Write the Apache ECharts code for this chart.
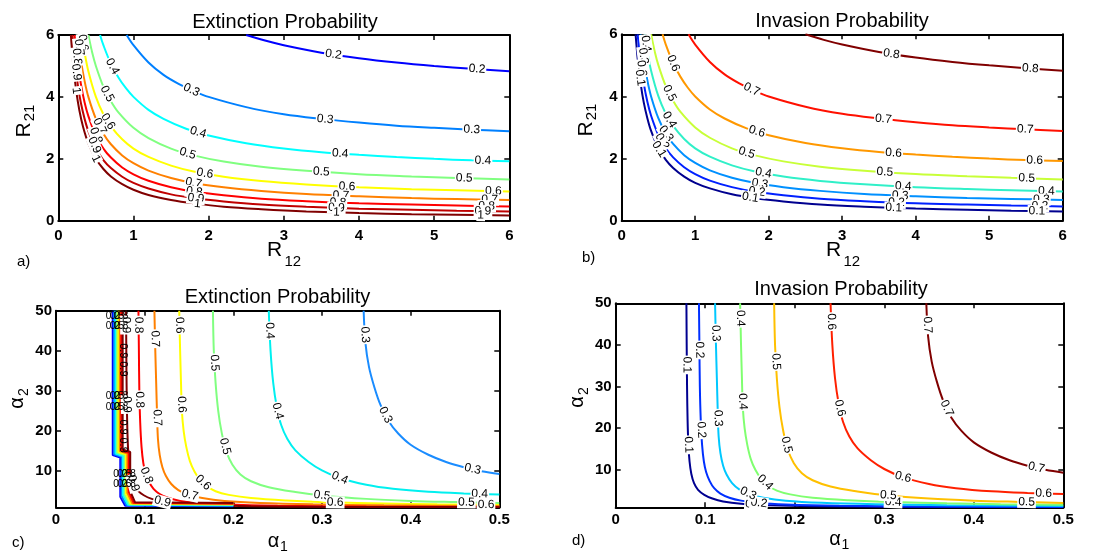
<!DOCTYPE html>
<html>
<head>
<meta charset="utf-8">
<script src="https://cdn.jsdelivr.net/npm/echarts@6/dist/echarts.min.js"></script>
<style>
  html, body { margin: 0; padding: 0; background: #fff; }
  #chart { width: 1102px; height: 554px; }
</style>
</head>
<body>
<div id="chart"></div>
<script>
// ---- Contour levels in the (R12, R21) plane, pairs [R12, R21] ----
// extinction level 0.2 == invasion level 0.8, and so on
const ext02 = [[2.5,6],[2.75,5.82],[3,5.67],[3.5,5.43],[4,5.25],[4.5,5.11],[5,5],[5.5,4.91],[6,4.83]];
const ext03 = [[0.909,6],[1,5.67],[1.2,5.11],[1.4,4.71],[1.6,4.42],[1.8,4.19],[2,4],[2.5,3.67],[3,3.44],[3.5,3.29],[4,3.17],[4.5,3.07],[5,3],[5.5,2.94],[6,2.89]];
const ext04 = [[0.556,6],[0.6,5.67],[0.7,5.07],[0.8,4.63],[0.9,4.28],[1,4],[1.2,3.58],[1.4,3.29],[1.7,2.97],[2,2.75],[2.5,2.5],[3,2.33],[3.5,2.21],[4,2.13],[4.5,2.06],[5,2],[5.5,1.95],[6,1.92]];
const ext05 = [[0.4,6],[0.45,5.44],[0.5,5],[0.6,4.33],[0.7,3.86],[0.8,3.5],[1,3],[1.2,2.67],[1.5,2.33],[1.8,2.11],[2.2,1.91],[2.7,1.74],[3.3,1.61],[4,1.5],[4.7,1.43],[5.3,1.38],[6,1.33]];
const ext06 = [[0.3125,6],[0.35,5.43],[0.4,4.83],[0.5,4],[0.6,3.44],[0.7,3.05],[0.85,2.63],[1,2.33],[1.2,2.06],[1.5,1.78],[1.8,1.59],[2.2,1.42],[2.7,1.28],[3.3,1.17],[4,1.08],[4.7,1.02],[5.3,0.98],[6,0.94]];
const ext07 = [[0.256,6],[0.3,5.19],[0.35,4.51],[0.4,4],[0.5,3.29],[0.6,2.81],[0.7,2.47],[0.85,2.11],[1,1.86],[1.2,1.62],[1.5,1.38],[1.8,1.22],[2.2,1.08],[2.7,0.96],[3.3,0.86],[4,0.79],[4.7,0.73],[5.3,0.7],[6,0.67]];
const ext08 = [[0.217,6],[0.25,5.25],[0.3,4.42],[0.35,3.82],[0.4,3.38],[0.5,2.75],[0.6,2.33],[0.7,2.04],[0.85,1.72],[1,1.5],[1.2,1.29],[1.5,1.08],[1.8,0.94],[2.2,0.82],[2.7,0.71],[3.3,0.63],[4,0.56],[4.7,0.52],[5.3,0.49],[6,0.46]];
const ext09 = [[0.189,6],[0.22,5.16],[0.26,4.38],[0.3,3.81],[0.35,3.29],[0.4,2.89],[0.5,2.33],[0.6,1.96],[0.7,1.7],[0.85,1.42],[1,1.22],[1.2,1.04],[1.5,0.85],[1.8,0.73],[2.2,0.62],[2.7,0.52],[3.3,0.45],[4,0.39],[4.7,0.35],[5.3,0.32],[6,0.3]];
const ext10 = [[0.167,6],[0.2,5],[0.24,4.17],[0.28,3.57],[0.33,3.03],[0.4,2.5],[0.5,2],[0.6,1.67],[0.7,1.43],[0.85,1.18],[1,1],[1.2,0.83],[1.5,0.67],[1.8,0.56],[2.2,0.45],[2.7,0.37],[3.3,0.3],[4,0.25],[4.7,0.21],[5.3,0.19],[6,0.17]];

// ---- Contour levels in the (alpha1, alpha2) plane, pairs [alpha1, alpha2] ----
const alp03 = [[0.347,50],[0.349,42],[0.353,36],[0.359,31],[0.366,26.5],[0.375,22.5],[0.386,19.4],[0.4,16.6],[0.42,14.1],[0.44,12.3],[0.46,11],[0.48,10],[0.5,9.3]];
const alp04 = [[0.24,50],[0.242,40],[0.245,32],[0.249,26],[0.254,21.5],[0.261,18],[0.27,15.2],[0.285,12.3],[0.3,10.2],[0.32,8.3],[0.35,6.6],[0.38,5.6],[0.42,4.85],[0.46,4.45],[0.5,4.2]];
const alp05 = [[0.177,50],[0.178,40],[0.18,32],[0.183,25],[0.187,19.5],[0.192,15],[0.199,11.6],[0.208,9.2],[0.22,7.5],[0.24,6],[0.27,4.8],[0.3,3.95],[0.35,3.1],[0.4,2.6],[0.45,2.3],[0.5,2.05]];
const alp06 = [[0.139,50],[0.14,40],[0.141,32],[0.142,25],[0.144,20],[0.147,16],[0.151,12.5],[0.156,10],[0.162,8],[0.17,6.3],[0.18,5],[0.195,4.1],[0.22,3.3],[0.26,2.7],[0.31,2.25],[0.37,1.95],[0.43,1.75],[0.5,1.6]];
const alp07 = [[0.111,50],[0.112,40],[0.113,32],[0.114,24],[0.115,18],[0.117,14],[0.12,11],[0.124,8.8],[0.13,6.8],[0.138,5.3],[0.15,4.1],[0.165,3.3],[0.19,2.6],[0.23,2.1],[0.29,1.75],[0.37,1.5],[0.5,1.3]];
const alp08 = [[0.093,50],[0.0935,40],[0.094,30],[0.095,22],[0.0965,16],[0.0985,12],[0.101,9.5],[0.105,7.3],[0.11,5.6],[0.117,4.3],[0.127,3.3],[0.14,2.6],[0.16,2.05],[0.19,1.7],[0.25,1.4],[0.35,1.2],[0.5,1.1]];
const alp09 = [[0.079,50],[0.0793,40],[0.0797,30],[0.0803,22],[0.0812,16],[0.0825,12],[0.0845,9],[0.0875,6.8],[0.092,5.2],[0.099,4],[0.108,3.1],[0.12,2.4],[0.14,1.85],[0.17,1.5],[0.22,1.25],[0.3,1.12],[0.4,1.06],[0.5,1.03]];

// stepped numerical-edge contours of the extinction map near alpha1 ~ 0.07
const edge0 = [[0.064,50],[0.064,14],[0.0725,13.4],[0.0725,3.6],[0.078,1.4],[0.2,1.25]];
const edge1 = [[0.0656,50],[0.0656,14.2],[0.0741,13.6],[0.0741,3.8],[0.0796,1.52],[0.2,1.37]];
const edge2 = [[0.0672,50],[0.0672,14.4],[0.0757,13.8],[0.0757,4],[0.0812,1.64],[0.2,1.49]];
const edge3 = [[0.0688,50],[0.0688,14.6],[0.0773,14],[0.0773,4.2],[0.0828,1.76],[0.2,1.61]];
const edge4 = [[0.0704,50],[0.0704,14.8],[0.0789,14.2],[0.0789,4.4],[0.0844,1.88],[0.2,1.73]];
const edge5 = [[0.072,50],[0.072,15],[0.0805,14.4],[0.0805,4.6],[0.086,2],[0.2,1.85]];
const edge6 = [[0.0736,50],[0.0736,15.2],[0.0821,14.6],[0.0821,4.8],[0.0876,2.12],[0.2,1.97]];
const edge7 = [[0.0752,50],[0.0752,15.4],[0.0837,14.8],[0.0837,5],[0.0892,2.24],[0.2,2.09]];

// level names and tick values
const extLevelsR = ['0.2','0.3','0.4','0.5','0.6','0.7','0.8','0.9','1'];
const invLevelsR = ['0.1','0.2','0.3','0.4','0.5','0.6','0.7','0.8'];
const extLevelsA = ['0.3','0.4','0.5','0.6','0.7','0.8','0.9'];
const invLevelsA = ['0.1','0.2','0.3','0.4','0.5','0.6','0.7'];
const edgeLevels = ['0.2','0.3','0.4','0.5','0.6','0.7','0.8','0.9'];
const alpha2Ticks = [10, 20, 30, 40, 50];

// ---- styling ----
const FONT = '"Liberation Sans", Arial, sans-serif';
const colA = ['#0000ff','#0080ff','#00ffff','#80ff80','#ffff00','#ff8000','#ff0000','#c00000','#800000'];
const colB = ['#00008f','#0020ff','#0090ff','#30f0c8','#c8ff38','#ff9800','#ff1000','#800000'];
const colC = ['#1a8cff','#00f0f0','#80ff80','#ffff00','#ff8000','#ff0000','#800000'];
const colD = ['#000090','#0030ff','#00c8ff','#80ff70','#ffc000','#ff2000','#800000'];
const colEdge = ['#0000ff','#0080ff','#00ffff','#80ff80','#ffff00','#ff8000','#ff0000','#800000'];

const grids = [
  { left: 58.3, top: 35, width: 451, height: 185.7 },
  { left: 621.7, top: 34.3, width: 441, height: 186.4 },
  { left: 56, top: 310.7, width: 443.3, height: 196.6 },
  { left: 615.7, top: 303.3, width: 447.6, height: 204 }
];

function axisCommon(primary, labelMargin) {
  return {
    axisLine: { show: true, onZero: false, lineStyle: { color: '#000', width: 2 } },
    axisTick: { show: true, inside: true, length: 5, lineStyle: { color: '#000', width: 1.5 } },
    axisLabel: { show: primary, color: '#000', fontSize: 15, fontWeight: 'bold', fontFamily: FONT, margin: labelMargin },
    splitLine: { show: false }
  };
}
const xAxes = [], yAxes = [];
[0, 1, 2, 3].forEach(function (g) {
  const isR = g < 2;
  [true, false].forEach(function (primary) {
    const xa = Object.assign({ type: 'value', gridIndex: g, position: primary ? 'bottom' : 'top',
      min: 0, max: isR ? 6 : 0.5, interval: isR ? 1 : 0.1 }, axisCommon(primary, isR ? 8 : 5));
    xAxes.push(xa);
    const ya = Object.assign({ type: 'value', gridIndex: g, position: primary ? 'left' : 'right' }, axisCommon(primary, 4));
    if (isR) { ya.min = 0; ya.max = 6; ya.interval = 2; }
    else {
      ya.min = 1; ya.max = 50;
      ya.axisTick.customValues = alpha2Ticks;
      ya.axisLabel.customValues = alpha2Ticks;
    }
    yAxes.push(ya);
  });
});

const series = [];
const curves = [[], [], [], []];
function addCurve(panel, pts, color, text, smooth) {
  const si = series.length;
  series.push({
    type: 'line', xAxisIndex: panel * 2, yAxisIndex: panel * 2, data: pts,
    symbol: 'none', showSymbol: false, smooth: smooth === false ? false : 0.35,
    lineStyle: { color: color, width: 2 }, itemStyle: { color: color },
    silent: true, clip: true, z: 2
  });
  curves[panel].push({ si: si, pts: pts, text: text });
}

[ext02, ext03, ext04, ext05, ext06, ext07, ext08, ext09, ext10].forEach(function (c, i) { addCurve(0, c, colA[i], extLevelsR[i]); });
[ext09, ext08, ext07, ext06, ext05, ext04, ext03, ext02].forEach(function (c, i) { addCurve(1, c, colB[i], invLevelsR[i]); });
[alp03, alp04, alp05, alp06, alp07, alp08, alp09].forEach(function (c, i) { addCurve(2, c, colC[i], extLevelsA[i]); });
[edge0, edge1, edge2, edge3, edge4, edge5, edge6, edge7].forEach(function (c, i) { addCurve(2, c, colEdge[i], edgeLevels[i], false); });
[alp09, alp08, alp07, alp06, alp05, alp04, alp03].forEach(function (c, i) { addCurve(3, c, colD[i], invLevelsA[i]); });

const chart = echarts.init(document.getElementById('chart'), null, { renderer: 'canvas' });
chart.setOption({
  animation: false,
  backgroundColor: '#fff',
  textStyle: { fontFamily: FONT },
  grid: grids,
  xAxis: xAxes,
  yAxis: yAxes,
  series: series
});

// inline contour labels: [curve number in panel, 'x' | 'y', coordinate along that axis]
const placeA = [
  [0,'x',3.66],[0,'x',5.57],
  [1,'x',1.77],[1,'x',3.55],[1,'x',5.5],
  [2,'x',0.72],[2,'x',1.86],[2,'x',3.75],[2,'x',5.65],
  [3,'y',4.1],[3,'x',1.72],[3,'x',3.5],[3,'x',5.4],
  [4,'y',5.75],[4,'y',3.2],[4,'x',1.95],[4,'x',3.84],[4,'x',5.79],
  [5,'y',5.6],[5,'x',0.55],[5,'x',1.8],[5,'x',3.76],[5,'x',5.74],
  [6,'y',5.3],[6,'x',0.5],[6,'x',1.81],[6,'x',3.72],[6,'x',5.7],
  [7,'y',4.8],[7,'x',0.48],[7,'x',1.83],[7,'x',3.7],[7,'x',5.65],
  [8,'y',4.2],[8,'x',0.5],[8,'x',1.85],[8,'x',3.7],[8,'x',5.62]
];
const placeB = [
  [7,'x',3.67],[7,'x',5.56],
  [6,'x',1.77],[6,'x',3.56],[6,'x',5.49],
  [5,'x',0.7],[5,'x',1.84],[5,'x',3.7],[5,'x',5.62],
  [4,'y',4.1],[4,'x',1.7],[4,'x',3.58],[4,'x',5.51],
  [3,'y',5.7],[3,'y',3.25],[3,'x',1.93],[3,'x',3.83],[3,'x',5.78],
  [2,'y',5.3],[2,'y',2.8],[2,'x',1.88],[2,'x',3.79],[2,'x',5.71],
  [1,'y',4.9],[1,'y',2.55],[1,'x',1.84],[1,'x',3.74],[1,'x',5.69],
  [0,'y',4.6],[0,'y',2.3],[0,'x',1.75],[0,'x',3.7],[0,'x',5.65]
];
const placeC = [
  [0,'y',44],[0,'y',24],[0,'x',0.47],
  [1,'y',45],[1,'y',25],[1,'x',0.32],[1,'x',0.478],
  [2,'y',37],[2,'y',16.2],[2,'x',0.3],[2,'x',0.463],
  [3,'y',46.4],[3,'y',26.6],[3,'x',0.166],[3,'x',0.315],[3,'x',0.485],
  [4,'y',43],[4,'y',23.3],[4,'x',0.151],
  [5,'y',46.4],[5,'y',27.8],[5,'x',0.102],
  [6,'y',46.4],[6,'y',26.6],[6,'y',7],[6,'x',0.12]
];
// crowded labels on the edge contours (curves 7..14 of panel c): flat clumps, no backdrop
const placeEdge = [];
[7, 10, 13].forEach(function (k) {
  [48.5, 46, 28.6, 26, 9.2, 6.7].forEach(function (v) { placeEdge.push([k, 'y', v]); });
});
const placeEdgeUpright = [[14,'y',40],[14,'y',35.5],[14,'y',21],[14,'y',16.5]];
const placeD = [
  [0,'y',35.2],[0,'y',16],[0,'x',0.154],
  [1,'y',38.8],[1,'y',19.6],[1,'x',0.16],
  [2,'y',42.8],[2,'y',22.4],[2,'x',0.148],
  [3,'y',46.4],[3,'y',26.4],[3,'x',0.1668],[3,'x',0.31],
  [4,'y',36],[4,'y',16],[4,'x',0.3045],[4,'x',0.459],
  [5,'y',45.6],[5,'y',24.8],[5,'x',0.321],[5,'x',0.478],
  [6,'y',44.8],[6,'y',24.8],[6,'x',0.47]
];

function contourLabel(c, mode, v, opts) {
  const k = mode === 'x' ? 0 : 1;
  const pts = c.pts;
  for (let i = 0; i < pts.length - 1; i++) {
    const p = pts[i], q = pts[i + 1];
    const a = p[k], b = q[k];
    if (a !== b && (v - a) * (v - b) <= 0) {
      const t = (v - a) / (b - a);
      const pt = [p[0] + t * (q[0] - p[0]), p[1] + t * (q[1] - p[1])];
      const P = chart.convertToPixel({ seriesIndex: c.si }, pt);
      const A = chart.convertToPixel({ seriesIndex: c.si }, p);
      const B = chart.convertToPixel({ seriesIndex: c.si }, q);
      let dx = B[0] - A[0], dy = B[1] - A[1];
      if (dx < 0 || (dx === 0 && dy < 0)) { dx = -dx; dy = -dy; }
      const style = { text: c.text, font: (opts.size || 12) + 'px ' + FONT, fill: '#000', align: 'center',
                      verticalAlign: 'middle', textAlign: 'center', textVerticalAlign: 'middle' };
      if (opts.backdrop) { style.backgroundColor = '#fff'; style.padding = [0, 1]; }
      const rot = opts.flat ? 0 : -Math.atan2(dy, dx);
      return { type: 'text', x: P[0], y: P[1], rotation: rot, z: 100, silent: true, style: style };
    }
  }
  return null;
}

const elements = [];
[placeA, placeB, placeC, placeD].forEach(function (list, panel) {
  list.forEach(function (s) {
    const el = contourLabel(curves[panel][s[0]], s[1], s[2], { backdrop: true });
    if (el) elements.push(el);
  });
});
placeEdge.forEach(function (s) {
  const el = contourLabel(curves[2][s[0]], s[1], s[2], { flat: true, size: 10 });
  if (el) elements.push(el);
});
placeEdgeUpright.forEach(function (s) {
  const el = contourLabel(curves[2][s[0]], s[1], s[2], { size: 11 });
  if (el) elements.push(el);
});

function txt(x, y, s, size, align) {
  return { type: 'text', x: x, y: y, z: 100, silent: true,
    style: { text: s, font: size + 'px ' + FONT, fill: '#000', align: align || 'center', verticalAlign: 'middle',
             textAlign: align || 'center', textVerticalAlign: 'middle' } };
}
function vname(x, y, main, sub, subDx, subDy, mainSize, subSize) {
  return { type: 'group', x: x, y: y, rotation: Math.PI / 2, z: 100, silent: true,
    children: [ txt(0, 0, main, mainSize), txt(subDx, subDy, sub, subSize) ] };
}

// titles
elements.push(txt(285, 22, 'Extinction Probability', 20));
elements.push(txt(842, 21, 'Invasion Probability', 20));
elements.push(txt(277.5, 297, 'Extinction Probability', 20));
elements.push(txt(841, 289, 'Invasion Probability', 20));
// panel letters
elements.push(txt(17, 262, 'a)', 15, 'left'));
elements.push(txt(582, 258, 'b)', 15, 'left'));
elements.push(txt(12, 543, 'c)', 15, 'left'));
elements.push(txt(572, 541, 'd)', 15, 'left'));
// x axis names
elements.push(txt(267, 250.5, 'R', 21, 'left'));
elements.push(txt(284.5, 262, '12', 15, 'left'));
elements.push(txt(826, 250.5, 'R', 21, 'left'));
elements.push(txt(843.5, 262, '12', 15, 'left'));
elements.push(txt(273.5, 541, 'α', 20));
elements.push(txt(284, 547, '1', 14));
elements.push(txt(835, 539, 'α', 20));
elements.push(txt(845.5, 545, '1', 14));
// y axis names (rotated)
elements.push(vname(24, 130, 'R', '21', 17, 6, 21, 15));
elements.push(vname(586, 129, 'R', '21', 17, 6, 21, 15));
elements.push(vname(17.5, 403, 'α', '2', 11, 7, 20, 14));
elements.push(vname(577, 402, 'α', '2', 11, 7, 20, 14));

chart.setOption({ graphic: { elements: elements } });
</script>
</body>
</html>
